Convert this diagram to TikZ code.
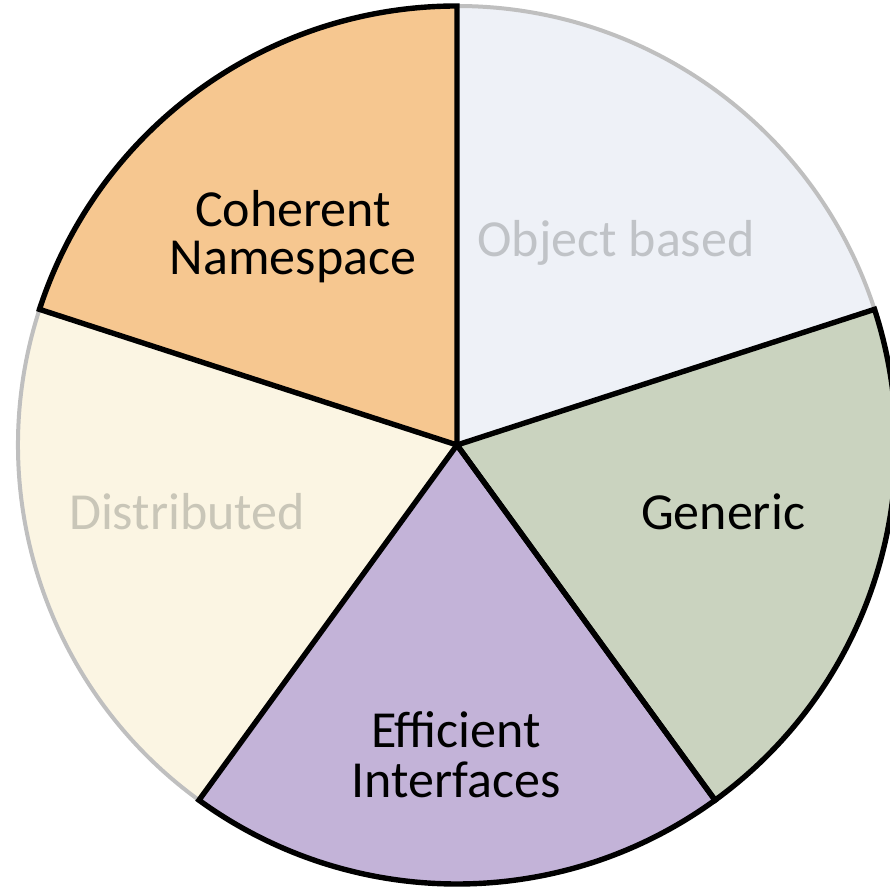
\documentclass[tikz,border=0pt]{standalone}
\usepackage{fontspec}
\setmainfont{Carlito}
\usetikzlibrary{calc}
\definecolor{cohfill}{HTML}{F6C790}
\definecolor{objfill}{HTML}{EEF1F7}
\definecolor{genfill}{HTML}{CAD3BF}
\definecolor{efffill}{HTML}{C3B3D8}
\definecolor{disfill}{HTML}{FBF5E3}
\definecolor{edgegray}{HTML}{BFBFBF}
\definecolor{objtext}{HTML}{C0C3C7}
\definecolor{distext}{HTML}{C9C6B8}
\begin{document}
\begin{tikzpicture}[x=1pt,y=1pt,
  blackedge/.style={draw=black,line width=5.4pt,line join=miter},
  grayedge/.style={draw=edgegray,line width=4pt},
  label/.style={font=\fontsize{52}{49}\selectfont,align=center,anchor=base,inner sep=0pt}]
\useasboundingbox (0,0) rectangle (890,888);
\clip (0,0) rectangle (890,888);
\def\R{439}
\coordinate (c) at (457,443);
% fills
\fill[objfill] (c) -- ++(18:\R) arc[start angle=18,end angle=90,radius=\R] -- cycle;
\fill[cohfill] (c) -- ++(90:\R) arc[start angle=90,end angle=162,radius=\R] -- cycle;
\fill[disfill] (c) -- ++(162:\R) arc[start angle=162,end angle=234,radius=\R] -- cycle;
\fill[efffill] (c) -- ++(234:\R) arc[start angle=234,end angle=306,radius=\R] -- cycle;
\fill[genfill] (c) -- ++(306:\R) arc[start angle=306,end angle=378,radius=\R] -- cycle;
% gray arcs
\draw[grayedge] ($(c)+(18:\R)$) arc[start angle=18,end angle=90,radius=\R];
\draw[grayedge] ($(c)+(162:\R)$) arc[start angle=162,end angle=234,radius=\R];
% black outlines
\draw[blackedge] (c) -- ++(90:\R) arc[start angle=90,end angle=162,radius=\R] -- cycle;
\draw[blackedge] (c) -- ++(234:\R) arc[start angle=234,end angle=306,radius=\R] -- cycle;
\draw[blackedge] (c) -- ++(306:\R) arc[start angle=306,end angle=378,radius=\R] -- cycle;
% labels
\node[label,text=black,font=\fontsize{52}{48}\selectfont] (coh) at (293,613) {Coherent\\Namespace};
\node[label,text=objtext] (obj) at (616,631) {Object based};
\node[label,text=black] (gen) at (723,358) {Generic};
\node[label,text=distext] (dis) at (187,358) {Distributed};
\node[label,text=black,font=\fontsize{52}{50}\selectfont] (eff) at (456,91) {Efficient\\Interfaces};
\end{tikzpicture}
\end{document}
